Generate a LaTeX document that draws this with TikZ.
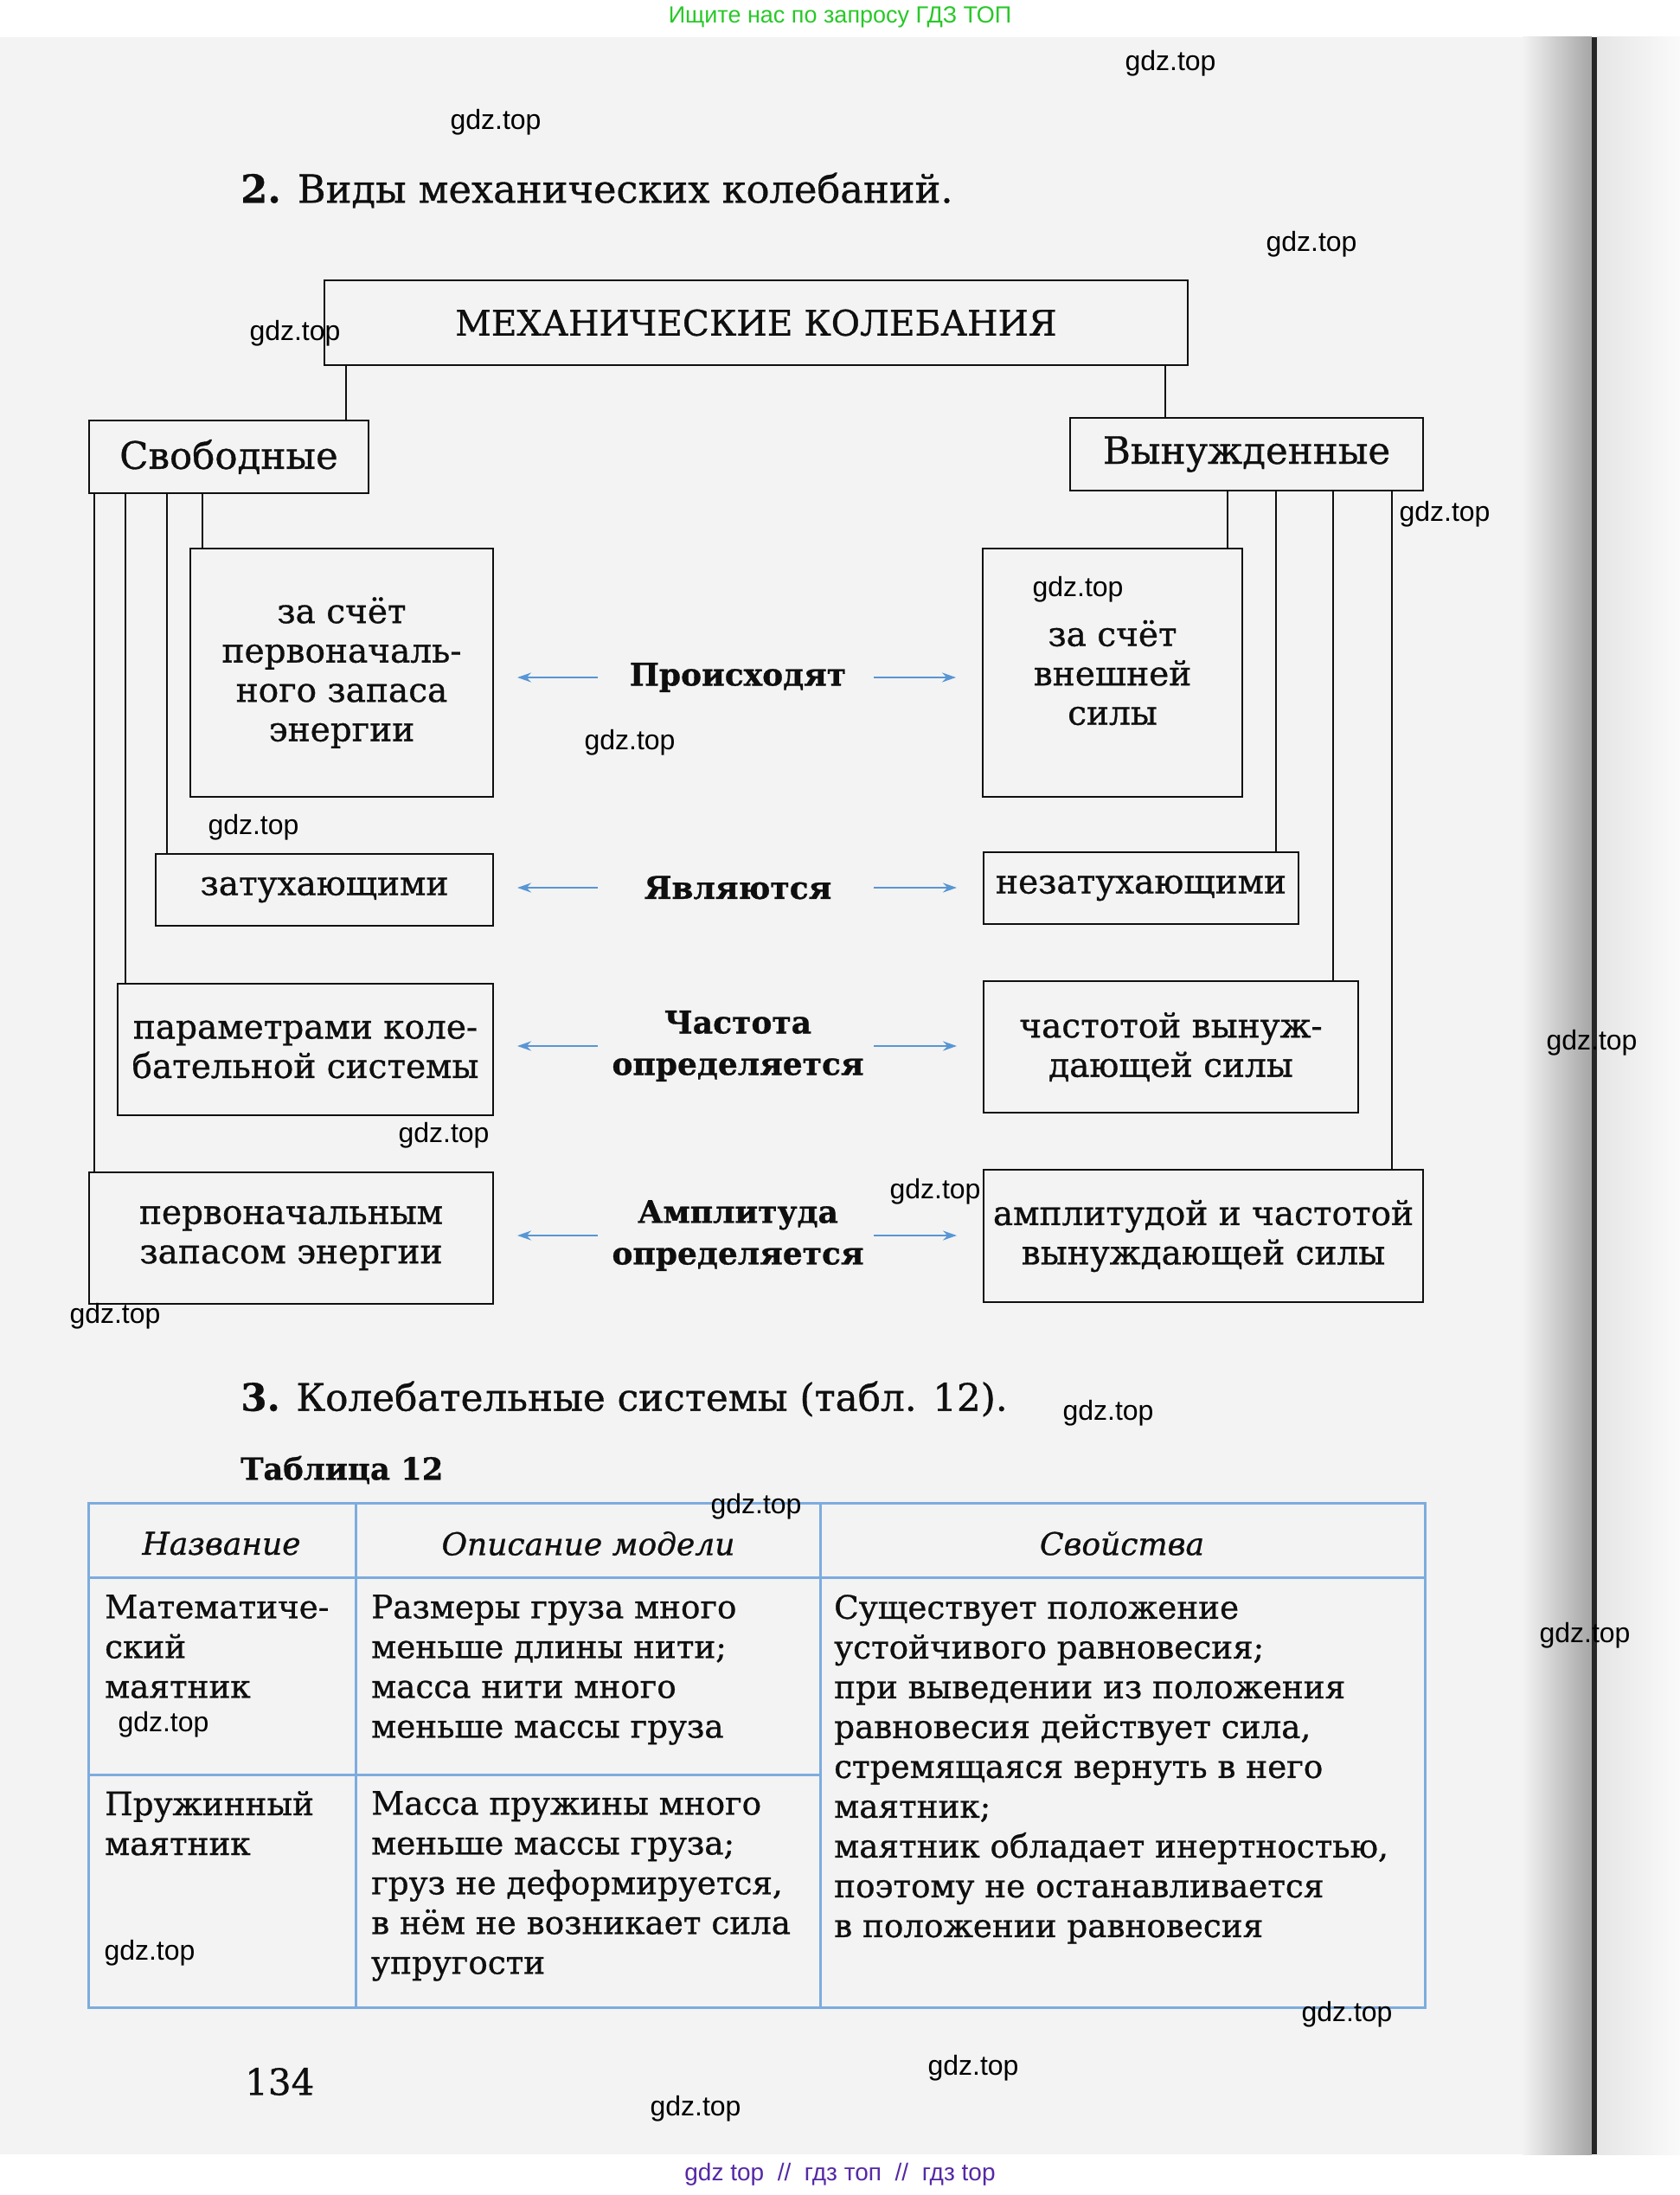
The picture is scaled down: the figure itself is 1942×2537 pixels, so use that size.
\documentclass[tikz,border=0pt]{standalone}
\usepackage{fontspec}
\setmainfont{DejaVu Serif}[RawFeature={embolden=0.8}]
\newfontfamily\wmfont{Liberation Sans}
\usepackage{tikz}
\usetikzlibrary{arrows.meta}
\definecolor{inkblack}{RGB}{15,15,15}
\definecolor{arrowblue}{RGB}{88,150,212}
\definecolor{tableblue}{RGB}{125,172,222}
\definecolor{pagegray}{RGB}{243,243,243}
\definecolor{topgreen}{RGB}{40,200,40}
\definecolor{footviolet}{RGB}{85,40,165}
\newcommand{\bodysize}{\fontsize{37.3}{46}\selectfont}
\newcommand{\boxsize}{\fontsize{39}{45.5}\selectfont}
\newcommand{\kindsize}{\fontsize{43.5}{50}\selectfont}
\newcommand{\headsize}{\fontsize{44.7}{50}\selectfont}
\newcommand{\wmsize}{\fontsize{32}{36}\selectfont}

\begin{document}
\begin{tikzpicture}[
 x=1pt,y=-1pt,
 box/.style={draw=inkblack,line width=2pt,align=center,inner sep=0pt,
              text=inkblack,font=\boxsize},
 kind/.style={box,font=\kindsize},
 link/.style={draw=inkblack,line width=2pt},
 arrow/.style={-{Stealth[length=16pt,width=11pt]},arrowblue,line width=2.5pt},
 verb/.style={align=center,font=\fontsize{36}{48}\selectfont\bfseries,text=inkblack,inner sep=0pt},
 tabline/.style={tableblue,line width=3pt},
 colhead/.style={font=\fontsize{36}{46}\selectfont\itshape,text=inkblack,inner sep=0pt},
 cell/.style={anchor=north west,align=left,inner sep=0pt,font=\bodysize,text=inkblack},
 wmark/.style={font=\wmfont\wmsize,text=black,inner sep=0pt}
]
\useasboundingbox (0,0) rectangle (1942,2537);
% scanned page
\fill[pagegray] (0,43) rectangle (1843,2490);
\shade[left color=pagegray,right color=black!35] (1760,43) rectangle (1840,2490);
\fill[black!85] (1840,43) rectangle (1846,2490);
\shade[left color=black!10,right color=black!2] (1846,43) rectangle (1942,2490);

\node[font=\wmfont\fontsize{27}{30}\selectfont,text=topgreen] (topline) at (971,20) {Ищите нас по запросу ГДЗ ТОП};
\node[font=\wmfont\fontsize{28}{30}\selectfont,text=footviolet] (footline) at (971,2513) {gdz top \ // \ гдз топ \ // \ гдз top};

\node[anchor=west,font=\headsize,text=inkblack,inner sep=0pt] (sec2) at (278,220) {\textbf{2.} Виды механических колебаний.};

% scheme
\node[box,font=\fontsize{40.6}{46}\selectfont,minimum width=998pt,minimum height=98pt] (mech) at (874,373) {МЕХАНИЧЕСКИЕ КОЛЕБАНИЯ};
\node[kind,minimum width=323pt,minimum height=84pt] (free) at (264.5,528) {Свободные};
\node[kind,minimum width=408pt,minimum height=84pt] (forced) at (1441,525) {Вынужденные};

\node[box,minimum width=350pt,minimum height=287pt] (free1) at (395,777.5) {за счёт\\первоначаль-\\ного запаса\\энергии};
\node[box,minimum width=390pt,minimum height=83pt] (free2) at (375,1028.5) {затухающими};
\node[box,minimum width=434pt,minimum height=152pt] (free3) at (353,1213) {параметрами коле-\\бательной системы};
\node[box,minimum width=467pt,minimum height=152pt] (free4) at (336.5,1431) {первоначальным\\запасом энергии};

\node[box,minimum width=300pt,minimum height=287pt] (forced1) at (1286,777.5) {за счёт\\внешней\\силы};
\node[box,minimum width=364pt,minimum height=83pt] (forced2) at (1319,1026.5) {незатухающими};
\node[box,minimum width=433pt,minimum height=152pt] (forced3) at (1353.5,1210) {частотой вынуж-\\дающей силы};
\node[box,minimum width=508pt,minimum height=153pt] (forced4) at (1391,1428.5) {амплитудой и частотой\\вынуждающей силы};

\node[verb] (occur) at (853,783) {Происходят};
\node[verb] (are) at (853,1026) {Являются};
\node[verb] (freq) at (853,1209) {Частота\\определяется};
\node[verb] (ampl) at (853,1428) {Амплитуда\\определяется};

\draw[link] ([xshift=-27pt]free.north east) -- ([xshift=-27pt]free.north east |- mech.south);
\draw[link] ([xshift=-27pt]mech.south east) -- ([xshift=-27pt]mech.south east |- forced.north);

\draw[link] ([xshift=15pt]free1.north west |- free.south) -- ([xshift=15pt]free1.north west);
\draw[link] ([xshift=14pt]free2.north west |- free.south) -- ([xshift=14pt]free2.north west);
\draw[link] ([xshift=10pt]free3.north west |- free.south) -- ([xshift=10pt]free3.north west);
\draw[link] ([xshift=7pt]free4.north west |- free.south) -- ([xshift=7pt]free4.north west);

\draw[link] ([xshift=-18pt]forced1.north east |- forced.south) -- ([xshift=-18pt]forced1.north east);
\draw[link] ([xshift=-27pt]forced2.north east |- forced.south) -- ([xshift=-27pt]forced2.north east);
\draw[link] ([xshift=-30pt]forced3.north east |- forced.south) -- ([xshift=-30pt]forced3.north east);
\draw[link] ([xshift=-37pt]forced4.north east |- forced.south) -- ([xshift=-37pt]forced4.north east);

\draw[arrow,shorten <=162pt,shorten >=27pt] (occur.center) -- (occur.center -| free1.east);
\draw[arrow,shorten <=157pt,shorten >=30pt] (occur.center) -- (occur.center -| forced1.west);
\draw[arrow,shorten <=162pt,shorten >=27pt] (are.center) -- (are.center -| free2.east);
\draw[arrow,shorten <=157pt,shorten >=30pt] (are.center) -- (are.center -| forced2.west);
\draw[arrow,shorten <=162pt,shorten >=27pt] (freq.center) -- (freq.center -| free3.east);
\draw[arrow,shorten <=157pt,shorten >=30pt] (freq.center) -- (freq.center -| forced3.west);
\draw[arrow,shorten <=162pt,shorten >=27pt] (ampl.center) -- (ampl.center -| free4.east);
\draw[arrow,shorten <=157pt,shorten >=30pt] (ampl.center) -- (ampl.center -| forced4.west);

% table 12
\node[anchor=west,font=\fontsize{43.7}{50}\selectfont,text=inkblack,inner sep=0pt] (sec3) at (278,1617) {\textbf{3.} Колебательные системы (табл. 12).};
\node[anchor=west,font=\fontsize{35.3}{40}\selectfont\bfseries,text=inkblack,inner sep=0pt] (tabtitle) at (278,1699) {Таблица 12};

\draw[tabline] (102,1737) rectangle (1647,2320);
\draw[tabline] (102,1823) -- (1647,1823);
\draw[tabline] (411,1737) -- (411,2320);
\draw[tabline] (948,1737) -- (948,2320);
\draw[tabline] (102,2051) -- (948,2051);

\node[colhead] (hname) at (256,1784) {Название};
\node[colhead] (hmodel) at (680,1784) {Описание модели};
\node[colhead] (hprop) at (1297,1784) {Свойства};

\node[cell] (math) at (121,1843) {Математиче-\\ский\\маятник};
\node[cell] (spring) at (121,2070) {Пружинный\\маятник};
\node[cell] (mathmodel) at (429,1843) {Размеры груза много\\меньше длины нити;\\масса нити много\\меньше массы груза};
\node[cell] (springmodel) at (429,2070) {Масса пружины много\\меньше массы груза;\\груз не деформируется,\\в нём не возникает сила\\упругости};
\node[cell] (props) at (964,1843) {Существует положение\\устойчивого равновесия;\\при выведении из положения\\равновесия действует сила,\\стремящаяся вернуть в него\\маятник;\\маятник обладает инертностью,\\поэтому не останавливается\\в положении равновесия};

\node[anchor=west,font=\fontsize{42}{46}\selectfont,text=inkblack,inner sep=0pt] (pagenum) at (283,2406) {134};

% watermarks
\foreach \wx/\wy [count=\wi] in {1353/73,573/141,1516/282,341/385,1670/594,1246/681,728/858,
  293/956,1840/1205,513/1312,1081/1377,133/1521,1281/1633,874/1741,1832/1890,189/1993,
  173/2257,1557/2328,1125/2390,804/2437}
  \node[wmark] (wm\wi) at (\wx,\wy) {gdz.top};
\end{tikzpicture}
\end{document}
